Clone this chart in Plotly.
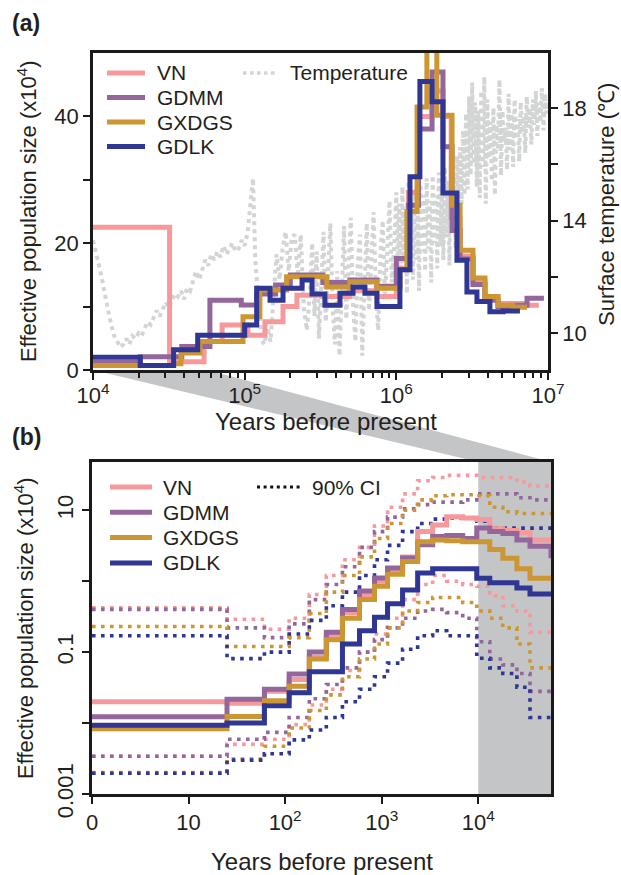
import math
import plotly.graph_objects as go

W, H = 621, 875
FONT = "Liberation Sans, Arial, Helvetica, sans-serif"
TXT = "#231f20"
AX = "#1a1a1a"

# ---------------- Panel (a): PSMC, Ne (x10^4) vs years ----------------
a_vn_years = [1.0e4, 3.2e4, 5.4e4, 7.1e4, 1.05e5, 1.36e5, 1.79e5, 2.21e5, 3.3e5, 4.9e5, 7.45e5,
              1.0e6, 1.2e6, 1.4e6, 1.72e6, 2.03e6, 2.3e6, 2.63e6, 3.2e6, 3.84e6, 4.68e6, 5.87e6, 7.27e6, 8.7e6]
a_vn_ne = [22.5, 1.3, 4.5, 7.1, 5.5, 7.6, 10.0, 11.8, 11.6, 12.5, 11.6,
           16.0, 28.0, 40.0, 44.0, 40.0, 24.0, 18.0, 14.0, 11.5, 10.5, 10.5, 10.2, 10.2]

a_gdmm_years = [1.0e4, 2.05e4, 3.85e4, 5.9e4, 9.5e4, 1.2e5, 1.6e5, 2.0e5, 3.28e5, 4.94e5, 7.45e5,
                1.0e6, 1.2e6, 1.4e6, 1.72e6, 2.03e6, 2.33e6, 2.63e6, 3.2e6, 3.84e6, 4.68e6, 5.87e6, 7.27e6, 9.4e6]
a_gdmm_ne = [1.2, 2.1, 3.7, 11.0, 10.25, 12.0, 13.4, 15.0, 13.8, 14.2, 13.2,
             17.6, 26.0, 38.0, 47.0, 35.2, 22.0, 17.5, 13.5, 11.0, 10.0, 10.2, 11.3, 11.3]

a_gxdgs_years = [1.0e4, 3.4e4, 3.8e4, 5.07e4, 9.75e4, 1.26e5, 1.89e5, 3.48e5, 4.94e5, 7.45e5,
                 1.056e6, 1.175e6, 1.37e6, 1.59e6, 1.85e6, 2.33e6, 2.63e6, 3.2e6, 3.84e6, 4.68e6, 5.87e6, 7.27e6]
a_gxdgs_ne = [0.7, 1.0, 2.7, 4.5, 8.4, 12.6, 14.7, 13.1, 13.9, 12.9,
              15.8, 25.0, 41.5, 52.0, 40.2, 26.0, 18.9, 14.5, 11.6, 10.2, 9.9, 9.9]

a_gdlk_years = [1.0e4, 2.05e4, 3.4e4, 4.9e4, 1.0e5, 1.2e5, 1.47e5, 1.79e5, 2.39e5, 2.78e5, 3.38e5,
                4.25e5, 5.18e5, 6.21e5, 7.45e5, 1.056e6, 1.23e6, 1.43e6, 1.72e6, 2.03e6, 2.51e6,
                2.92e6, 3.40e6, 4.14e6, 5.05e6, 6.53e6]
a_gdlk_ne = [2.0, 0.7, 3.2, 5.5, 7.1, 12.9, 11.0, 12.9, 14.2, 12.0, 10.2,
             12.1, 13.1, 12.1, 10.0, 15.8, 30.5, 45.5, 42.3, 27.9, 17.3,
             12.3, 10.8, 9.2, 9.3, 9.3]

# Surface temperature (deg C); x given as log10(years)
temp_log_years = [
    4.00, 4.02, 4.04, 4.06, 4.08, 4.10, 4.12, 4.14, 4.16, 4.18, 4.20, 4.22, 4.24, 4.26, 4.28, 4.30,
    4.32, 4.34, 4.36, 4.38, 4.40, 4.42, 4.44, 4.46, 4.48, 4.50, 4.52, 4.54, 4.56, 4.58, 4.60, 4.62,
    4.64, 4.66, 4.68, 4.70, 4.72, 4.74, 4.76, 4.78, 4.80, 4.82, 4.84, 4.86, 4.88, 4.90, 4.92, 4.94,
    4.96, 4.98, 5.00, 5.02, 5.04, 5.055, 5.07, 5.09, 5.11, 5.13, 5.15, 5.17, 5.19, 5.21, 5.23, 5.25,
    5.27, 5.29, 5.31, 5.33, 5.35, 5.37, 5.39, 5.41,
    5.43, 5.445, 5.46, 5.475, 5.49, 5.505, 5.52, 5.535, 5.55, 5.565, 5.58, 5.595, 5.61, 5.625, 5.64,
    5.655, 5.67, 5.685, 5.70, 5.715, 5.73, 5.745, 5.76, 5.775, 5.79, 5.805, 5.82, 5.835, 5.85, 5.865,
    5.88, 5.895, 5.91, 5.925, 5.94, 5.955, 5.97, 5.985,
    6.00, 6.01, 6.02, 6.03, 6.04, 6.05, 6.06, 6.07, 6.08, 6.09, 6.10, 6.11, 6.12, 6.13, 6.14, 6.15,
    6.16, 6.17, 6.18, 6.19, 6.20, 6.21, 6.22, 6.23, 6.24, 6.25, 6.26, 6.27, 6.28, 6.29, 6.30, 6.31,
    6.32, 6.33, 6.34, 6.35, 6.36, 6.37, 6.38, 6.39, 6.40,
    6.41, 6.42, 6.43, 6.44, 6.45, 6.46, 6.47, 6.48, 6.49, 6.50, 6.51, 6.52, 6.53, 6.54, 6.55, 6.56,
    6.57, 6.58, 6.59, 6.60, 6.61, 6.62, 6.63, 6.64, 6.65, 6.66, 6.67, 6.68, 6.69, 6.70, 6.71, 6.72,
    6.73, 6.74, 6.75, 6.76, 6.77, 6.78, 6.79, 6.80, 6.81, 6.82, 6.83, 6.84, 6.85, 6.86, 6.87, 6.88,
    6.89, 6.90, 6.91, 6.92, 6.93, 6.94, 6.95, 6.96, 6.97, 6.98, 6.99, 7.00]
temp_c = [
    13.3, 12.9, 12.4, 11.9, 11.3, 10.8, 10.3, 9.9, 9.7, 9.5, 9.6, 9.8, 9.6, 9.9, 9.8, 10.0,
    9.9, 10.2, 10.4, 10.3, 10.6, 10.8, 10.6, 10.9, 11.1, 10.9, 11.2, 11.4, 11.3, 11.5, 11.2, 11.6,
    11.5, 11.8, 12.2, 11.9, 12.3, 12.6, 12.4, 12.8, 12.6, 12.9, 12.7, 13.1, 12.8, 13.0, 13.2, 12.9,
    13.0, 13.3, 13.1, 13.6, 14.6, 15.5, 12.6, 11.0, 9.8, 9.6, 10.2, 9.7, 11.5, 12.8, 11.9, 13.0,
    13.6, 12.2, 13.4, 13.5, 12.0, 13.5, 10.9, 10.1,
    11.4, 13.2, 10.6, 12.9, 9.8, 11.9, 13.6, 10.4, 12.6, 13.9, 10.9, 9.6, 12.2, 9.2, 11.4,
    13.8, 10.5, 12.7, 14.1, 11.0, 9.7, 12.4, 13.5, 9.2, 11.3, 13.9, 10.8, 12.9, 14.3, 11.5,
    10.1, 12.8, 14.0, 11.2, 13.3, 14.7, 11.8, 12.9,
    15.0, 12.1, 14.6, 11.6, 15.2, 12.5, 14.3, 11.4, 15.4, 12.8, 14.8, 11.9, 15.1, 12.6, 14.5, 11.5,
    15.3, 12.9, 14.9, 12.2, 15.5, 13.0, 14.7, 11.8, 15.6, 13.2, 14.9, 12.3, 15.7, 13.1, 15.2, 12.6,
    15.9, 13.4, 15.4, 12.4, 16.0, 13.8, 15.6, 13.0, 16.3,
    14.2, 16.6, 14.6, 17.2, 14.9, 17.8, 15.1, 18.4, 15.6, 18.9, 16.0, 18.2, 15.2, 17.9, 14.8, 18.6,
    15.9, 19.1, 14.6, 18.3, 16.2, 17.5, 15.4, 18.0, 14.9, 17.4, 16.5, 19.0, 15.6, 17.9, 16.8, 17.3,
    15.8, 18.5, 16.5, 17.8, 15.9, 18.3, 16.9, 17.6, 16.1, 18.2, 17.1, 17.7, 16.4, 18.4, 17.3, 18.0,
    16.7, 18.3, 17.4, 18.6, 17.0, 18.2, 17.5, 18.7, 17.2, 18.5, 17.8, 18.3]

# ---------------- Panel (b): recent history with 90% CI (Ne x10^4) ----------------
b_years = [1, 25, 61, 110, 178, 267, 392, 589, 842, 1149, 1644, 2355, 3370, 4710, 6900,
           9640, 13150, 17950, 25100, 34300, 56600]

b_vn = [0.020, 0.019, 0.028, 0.041, 0.085, 0.17, 0.36, 0.65, 1.0, 1.45, 2.2, 5.0, 6.2, 8.1, 7.8,
        7.4, 5.5, 5.2, 4.8, 3.8, 3.8]
b_gdmm = [0.0123, 0.0216, 0.030, 0.049, 0.10, 0.19, 0.40, 0.73, 1.11, 1.54, 2.12, 3.27, 4.27, 4.4, 4.0,
          5.6, 5.0, 4.7, 3.8, 3.1, 2.1]
b_gxdgs = [0.0083, 0.0124, 0.0207, 0.033, 0.08, 0.15, 0.30, 0.55, 0.85, 1.25, 1.9, 3.6, 3.8, 3.7, 3.6,
           3.6, 2.8, 2.1, 1.5, 1.1, 1.1]
b_gdlk = [0.0093, 0.0100, 0.0175, 0.0268, 0.053, 0.053, 0.13, 0.2, 0.31, 0.48, 0.75, 1.3, 1.5, 1.5, 1.5,
          1.1, 0.95, 0.95, 0.8, 0.66, 0.66]

b_vn_hi = [0.42, 0.29, 0.21, 0.30, 0.65, 1.2, 2.0, 3.0, 6.0, 11, 17, 26, 29, 31, 31, 29, 29, 29, 25, 22, 22]
b_gdmm_hi = [0.40, 0.22, 0.16, 0.25, 0.55, 0.9, 1.6, 3.0, 5.0, 8.0, 10.5, 12, 13, 13, 14, 17, 17, 17, 15, 14, 14]
b_gxdgs_hi = [0.23, 0.12, 0.12, 0.16, 0.35, 0.7, 1.2, 2.2, 4.0, 6.5, 10, 14, 16, 16.5, 16.5, 16, 11, 9.5, 9, 9, 9]
b_gdlk_hi = [0.17, 0.081, 0.10, 0.18, 0.28, 0.45, 0.7, 1.2, 2.0, 3.2, 5.0, 6.5, 7.5, 7.8, 7.8, 7.0, 5.6, 5.6, 5.6, 5.6, 5.6]

b_vn_lo = [0.0034, 0.0050, 0.0059, 0.0095, 0.018, 0.03, 0.055, 0.10, 0.18, 0.30, 0.55, 0.9, 1.2, 1.0, 0.9,
           0.85, 0.62, 0.45, 0.38, 0.19, 0.19]
b_gdmm_lo = [0.0034, 0.0059, 0.0074, 0.012, 0.022, 0.035, 0.06, 0.1, 0.15, 0.22, 0.3, 0.38, 0.4, 0.36, 0.3,
             0.14, 0.08, 0.066, 0.05, 0.028, 0.028]
b_gxdgs_lo = [0.0020, 0.0031, 0.0047, 0.0085, 0.015, 0.025, 0.045, 0.08, 0.13, 0.22, 0.38, 0.5, 0.59, 0.59, 0.5,
              0.38, 0.3, 0.22, 0.13, 0.06, 0.06]
b_gdlk_lo = [0.00196, 0.0030, 0.0037, 0.0058, 0.008, 0.012, 0.02, 0.03, 0.045, 0.07, 0.11, 0.17, 0.2, 0.17, 0.17,
             0.082, 0.06, 0.05, 0.032, 0.012, 0.012]

# ---------------- Tick labels ----------------
a_xticks = [1e4, 1e5, 1e6, 1e7]
a_xticktext = ["10<sup>4</sup>", "10<sup>5</sup>", "10<sup>6</sup>", "10<sup>7</sup>"]
a_yticks = [0, 20, 40]
a_yminor = [10, 30]
a_tticks = [10, 14, 18]
a_tminor = [12, 16]
b_xticks = [1, 10, 100, 1000, 10000]
b_xticktext = ["0", "10", "10<sup>2</sup>", "10<sup>3</sup>", "10<sup>4</sup>"]
b_yticks = [0.001, 0.1, 10]
b_yticktext = ["0.001", "0.1", "10"]
b_yminor = [0.01, 1]

names = ["VN", "GDMM", "GXDGS", "GDLK"]
colors = ["#f5999c", "#94679c", "#cc9633", "#2f3693"]
TEMP_COLOR = "#d3d4d4"
SHADE = "#c4c5c7"

# ---------------- Layout geometry (pixels) ----------------
A_L, A_R, A_T, A_B = 93, 548, 53, 370
B_L, B_R, B_T, B_B = 92, 551, 462, 794
A_XRANGE = [4, 7]
A_YRANGE = [0, 50]
A_TRANGE = [8.69, 19.95]
B_XRANGE = [0, math.log10(b_years[-1])]
B_YRANGE = [-3, 1.68]


def pxx(x):
    return x / W


def pxy(y):
    return 1 - y / H


fig = go.Figure()

# temperature on base axis (drawn beneath)
fig.add_trace(go.Scatter(
    x=[10 ** v for v in temp_log_years], y=temp_c, mode="lines",
    line=dict(color=TEMP_COLOR, width=4, dash="dot"),
    xaxis="x", yaxis="y", hoverinfo="skip", showlegend=False))

a_series = [(a_vn_years, a_vn_ne), (a_gdmm_years, a_gdmm_ne),
            (a_gxdgs_years, a_gxdgs_ne), (a_gdlk_years, a_gdlk_ne)]
for (yrs, ne), nm, col in zip(a_series, names, colors):
    fig.add_trace(go.Scatter(
        x=yrs, y=ne, mode="lines", name=nm, line=dict(color=col, width=5, shape="hv"),
        xaxis="x", yaxis="y3", showlegend=False))

b_ci = [(b_vn_hi, b_vn_lo), (b_gdmm_hi, b_gdmm_lo), (b_gxdgs_hi, b_gxdgs_lo), (b_gdlk_hi, b_gdlk_lo)]
for (hi, lo), col in zip(b_ci, colors):
    for arr in (hi, lo):
        fig.add_trace(go.Scatter(
            x=b_years, y=arr, mode="lines",
            line=dict(color=col, width=3.6, dash="3.6px,5.4px", shape="hv"),
            xaxis="x2", yaxis="y2", showlegend=False, hoverinfo="skip"))

b_series = [b_vn, b_gdmm, b_gxdgs, b_gdlk]
for ne, nm, col in zip(b_series, names, colors):
    fig.add_trace(go.Scatter(
        x=b_years, y=ne, mode="lines", name=nm, line=dict(color=col, width=5, shape="hv"),
        xaxis="x2", yaxis="y2", showlegend=False))

axis_style = dict(showline=True, linecolor=AX, linewidth=2.6, ticks="outside", ticklen=7,
                  tickwidth=2.2, tickcolor=AX, showgrid=False, zeroline=False,
                  tickfont=dict(family=FONT, size=22, color=TXT), automargin=False)


def minor_ticks(vals, length=7, width=2.2):
    return dict(ticks="outside", ticklen=length, tickwidth=width, tickcolor=AX,
                tickmode="array", tickvals=vals, showgrid=False)


fig.update_layout(
    width=W, height=H, margin=dict(l=0, r=0, t=0, b=0),
    paper_bgcolor="white", plot_bgcolor="rgba(0,0,0,0)", showlegend=False,
    font=dict(family=FONT, color=TXT),
    xaxis=dict(type="log", range=A_XRANGE, domain=[pxx(A_L), pxx(A_R)], anchor="y",
               tickmode="array", tickvals=a_xticks, ticktext=a_xticktext, mirror=True,
               ticklabelstandoff=-3,
               minor=minor_ticks([m * 10 ** e for e in (4, 5, 6) for m in range(2, 10)], 5, 1.8),
               **axis_style),
    yaxis=dict(range=A_TRANGE, domain=[pxy(A_B), pxy(A_T)], anchor="x", side="right",
               tickmode="array", tickvals=a_tticks, minor=minor_ticks(a_tminor), **axis_style),
    yaxis3=dict(range=A_YRANGE, overlaying="y", anchor="x", side="left",
                tickmode="array", tickvals=a_yticks, minor=minor_ticks(a_yminor), **axis_style),
    xaxis2=dict(type="log", range=B_XRANGE, domain=[pxx(B_L), pxx(B_R)], anchor="y2",
                tickmode="array", tickvals=b_xticks, ticktext=b_xticktext, mirror=True,
                **axis_style),
    yaxis2=dict(type="log", range=B_YRANGE, domain=[pxy(B_B), pxy(B_T)], anchor="x2",
                tickmode="array", tickvals=b_yticks, ticktext=b_yticktext, tickangle=-90,
                minor=minor_ticks(b_yminor), mirror=True, **axis_style),
)

shapes = []
# shaded zoom region in panel (b): from 10^4 years to right edge
b_frac_1e4 = (4 - B_XRANGE[0]) / (B_XRANGE[1] - B_XRANGE[0])
shapes.append(dict(type="rect", xref="x2 domain", yref="y2 domain", x0=b_frac_1e4, x1=1,
                   y0=0, y1=1, fillcolor=SHADE, line=dict(width=0), layer="below"))
# connector polygon between panels (a) and (b)
a_frac_end = (B_XRANGE[1] - A_XRANGE[0]) / (A_XRANGE[1] - A_XRANGE[0])
ax0 = pxx(A_L)
ax1 = pxx(A_L + a_frac_end * (A_R - A_L))
bx0 = pxx(B_L + b_frac_1e4 * (B_R - B_L))
bx1 = pxx(B_R)
ya = pxy(A_B)
yb = pxy(B_T)
shapes.append(dict(type="path", xref="paper", yref="paper",
                   path=f"M {ax0},{ya} L {ax1},{ya} L {bx1},{yb} L {bx0},{yb} Z",
                   fillcolor=SHADE, line=dict(width=0), layer="below"))

annotations = []


def legend_entry(x0, x1, y, color, text, tx, dash=None, width=5):
    line = dict(color=color, width=width)
    if dash:
        line["dash"] = dash
    shapes.append(dict(type="line", xref="paper", yref="paper", x0=pxx(x0), x1=pxx(x1),
                       y0=pxy(y), y1=pxy(y), line=line))
    annotations.append(dict(x=pxx(tx), y=pxy(y), xref="paper", yref="paper", text=text,
                            showarrow=False, xanchor="left", yanchor="middle",
                            font=dict(family=FONT, size=21, color=TXT)))


for i, (nm, col) in enumerate(zip(names, colors)):
    legend_entry(107, 145, 73 + 24.5 * i, col, nm, 155)
    legend_entry(110, 152, 487 + 25.3 * i, col, nm, 161)
legend_entry(243, 277, 73, TEMP_COLOR, "Temperature", 288, dash="dot", width=3.5)
legend_entry(257, 300, 487, "#111111", "90% CI", 310, dash="3px,3.6px", width=3)


def label(x, y, text, size=22, angle=0, bold=False, anchor="center"):
    annotations.append(dict(x=pxx(x), y=pxy(y), xref="paper", yref="paper",
                            text=f"<b>{text}</b>" if bold else text, showarrow=False,
                            textangle=angle, xanchor=anchor, yanchor="middle",
                            font=dict(family=FONT, size=size, color=TXT)))


label(27, 211, "Effective population size (x10<sup>4</sup>)", angle=-90)
label(606, 205, "Surface temperature (℃)", angle=-90)
label(326, 422, "Years before present", size=24)
label(24, 628, "Effective population size (x10<sup>4</sup>)", angle=-90)
label(322, 861, "Years before present", size=24)
label(26, 23, "(a)", size=23, bold=True)
label(26, 437, "(b)", size=23, bold=True)

fig.update_layout(shapes=shapes, annotations=annotations)
fig.write_html("out.html")
